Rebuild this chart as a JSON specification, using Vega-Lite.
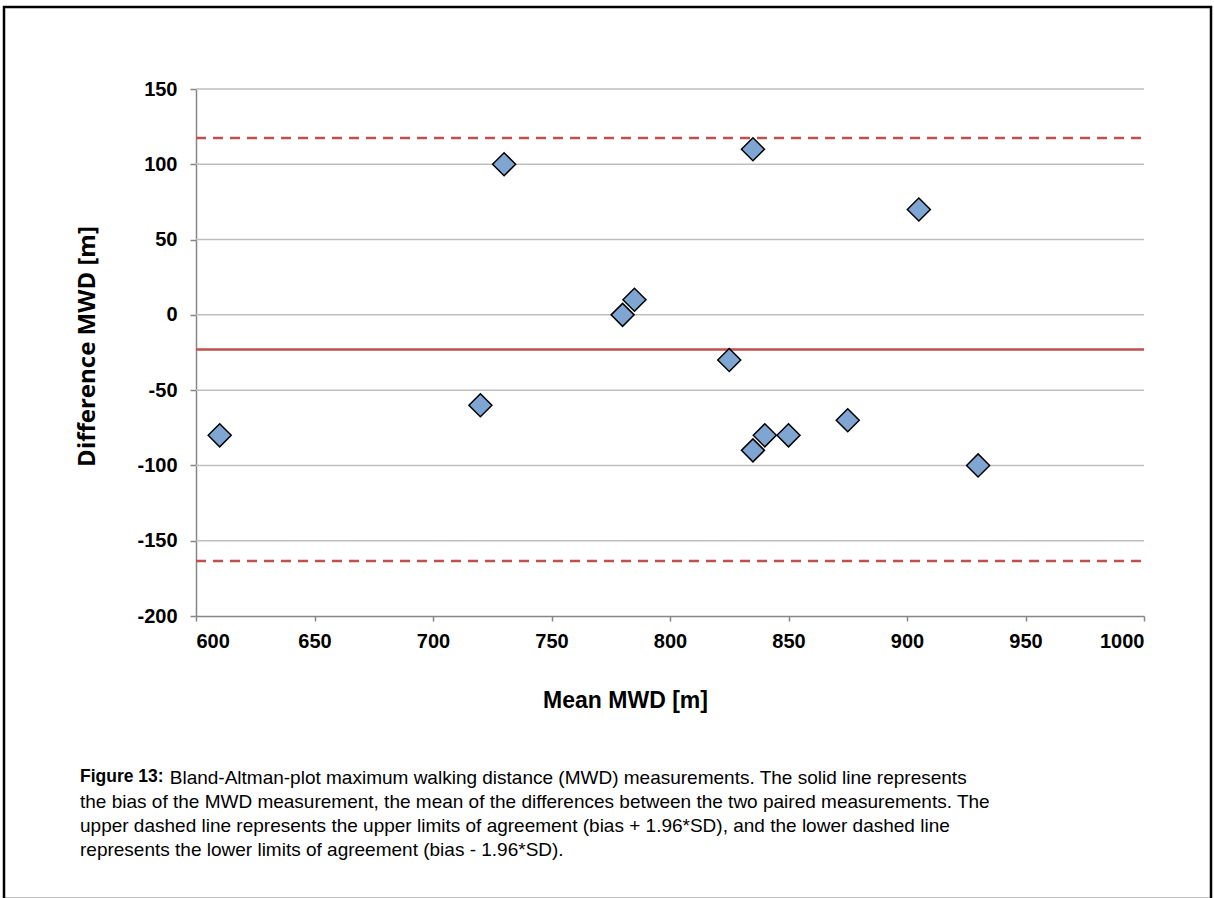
{
  "$schema": "https://vega.github.io/schema/vega-lite/v6.json",
  "width": 1207,
  "height": 892,
  "autosize": {"type": "none"},
  "padding": {"left": 4, "top": 7, "right": 3, "bottom": -1},
  "background": "white",
  "config": {
    "view": {"stroke": "black", "strokeWidth": 2.5},
    "axis": {
      "grid": false,
      "domainColor": "#868686",
      "domainWidth": 1.5,
      "tickColor": "#868686",
      "tickWidth": 1.5,
      "labelFont": "Liberation Sans",
      "labelFontWeight": "bold",
      "labelFontSize": 20,
      "labelColor": "black",
      "titleColor": "black"
    }
  },
  "title": {
    "text": "Figure 13:",
    "subtitle": [
      "\u200b\u00a0\u00a0\u00a0\u00a0\u00a0\u00a0\u00a0\u00a0\u00a0\u00a0\u00a0\u00a0\u00a0\u00a0\u00a0\u00a0\u00a0Bland-Altman-plot maximum walking distance (MWD) measurements. The solid line represents",
      "the bias of the MWD measurement, the mean of the differences between the two paired measurements. The",
      "upper dashed line represents the upper limits of agreement (bias + 1.96*SD), and the lower dashed line",
      "represents the lower limits of agreement (bias - 1.96*SD)."
    ],
    "orient": "bottom",
    "anchor": "start",
    "frame": "group",
    "offset": -131,
    "dx": 76,
    "font": "Liberation Sans",
    "fontSize": 17.5,
    "fontWeight": "bold",
    "color": "black",
    "subtitleFont": "Liberation Sans",
    "subtitleFontSize": 19,
    "subtitleFontWeight": "normal",
    "subtitleColor": "black",
    "subtitleLineHeight": 24,
    "subtitlePadding": -17
  },
  "layer": [
    {
      "data": {"values": [{"g": 150}, {"g": 100}, {"g": 50}, {"g": 0}, {"g": -50}, {"g": -100}, {"g": -150}]},
      "mark": {"type": "rule", "color": "#BFBFBF", "strokeWidth": 1.5},
      "encoding": {
        "y": {"field": "g", "type": "quantitative", "title": "Difference MWD [m]", "scale": {"domain": [-200, 150], "range": [609, 82], "zero": false, "nice": false}},
        "x": {"datum": 600, "type": "quantitative", "scale": {"domain": [600, 1000], "range": [192, 1140], "zero": false, "nice": false}},
        "x2": {"datum": 1000}
      }
    },
    {
      "data": {"values": [{"limit": "upper", "v": 117.5}, {"limit": "lower", "v": -163.5}]},
      "mark": {"type": "rule", "color": "#C0504D", "strokeWidth": 2.5, "strokeDash": [10, 7]},
      "encoding": {
        "y": {"field": "v", "type": "quantitative", "title": "Difference MWD [m]"},
        "x": {"datum": 600, "type": "quantitative"},
        "x2": {"datum": 1000}
      }
    },
    {
      "data": {"values": [{"bias": -23}]},
      "mark": {"type": "rule", "color": "#C0504D", "strokeWidth": 2.5},
      "encoding": {
        "y": {"field": "bias", "type": "quantitative", "title": "Difference MWD [m]"},
        "x": {"datum": 600, "type": "quantitative"},
        "x2": {"datum": 1000}
      }
    },
    {
      "data": {"values": [
        {"mean": 610, "diff": -80},
        {"mean": 720, "diff": -60},
        {"mean": 730, "diff": 100},
        {"mean": 780, "diff": 0},
        {"mean": 785, "diff": 10},
        {"mean": 825, "diff": -30},
        {"mean": 835, "diff": 110},
        {"mean": 835, "diff": -90},
        {"mean": 840, "diff": -80},
        {"mean": 850, "diff": -80},
        {"mean": 875, "diff": -70},
        {"mean": 905, "diff": 70},
        {"mean": 930, "diff": -100}
      ]},
      "mark": {"type": "point", "shape": "diamond", "filled": true, "fill": "#7FA6D3", "stroke": "black", "strokeWidth": 1.5, "size": 530, "opacity": 1},
      "encoding": {
        "x": {
          "field": "mean", "type": "quantitative",
          "axis": {
            "values": [600, 650, 700, 750, 800, 850, 900, 950, 1000],
            "format": "d",
            "offset": -283,
            "tickSize": 5,
            "labelPadding": 10,
            "title": "Mean MWD [m]",
            "titleFont": "Liberation Sans",
            "titleFontWeight": "bold",
            "titleFontSize": 23,
            "titleX": 621,
            "titleY": 91,
            "titleBaseline": "alphabetic",
            "titleAnchor": "middle"
          }
        },
        "y": {
          "field": "diff", "type": "quantitative",
          "title": "Difference MWD [m]",
          "axis": {
            "values": [-200, -150, -100, -50, 0, 50, 100, 150],
            "labelExpr": "datum.value < 0 ? '-' + abs(datum.value) : '' + datum.value",
            "offset": -192,
            "tickSize": 6,
            "labelPadding": 13,
            "title": "Difference MWD [m]",
            "titleFont": "Open Sans",
            "titleFontWeight": "bold",
            "titleFontSize": 24,
            "titleX": -109,
            "titleY": 339,
            "titleAngle": -90,
            "titleBaseline": "middle",
            "titleAnchor": "middle"
          }
        }
      }
    }
  ]
}
